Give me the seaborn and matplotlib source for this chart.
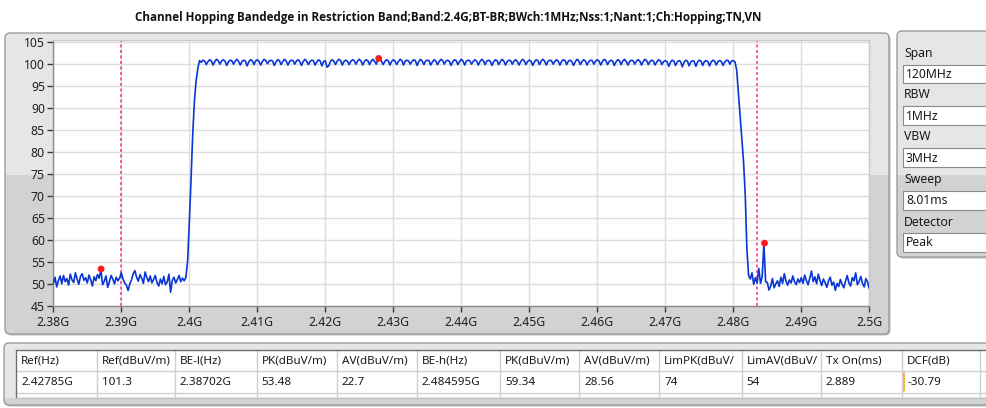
import numpy as np
import pandas as pd
import matplotlib
matplotlib.use("Agg")
import matplotlib.pyplot as plt
from matplotlib.patches import FancyBboxPatch, Rectangle
import seaborn as sns

# ---------------- data ----------------
TITLE = ("Channel Hopping Bandedge in Restriction Band;Band:2.4G;BT-BR;BWch:1MHz;"
         "Nss:1;Nant:1;Ch:Hopping;TN,VN")

sweep_start_mhz = 2380.0
sweep_step_mhz = 0.25
trace_dbuv = [
    50.2, 51.6, 49.4, 50.8, 51.9, 50.1, 52.0, 50.6, 51.3, 49.8, 52.3, 51.0, 50.4, 52.6, 51.2, 50.0, 51.8, 52.4, 50.9, 51.5,
    50.3, 52.1, 51.0, 49.6, 51.7, 50.8, 52.2, 51.4, 53.3, 49.9, 50.7, 51.9, 49.3, 50.6, 52.0, 51.2, 50.1, 51.6, 50.8, 51.4,
    52.6, 51.2, 50.3, 49.8, 48.6, 50.1, 51.0, 52.4, 53.1, 51.6, 50.7, 52.2, 51.4, 50.2, 52.8, 51.5, 50.6, 51.9, 50.3, 51.1,
    52.0, 50.4, 49.6, 51.2, 50.1, 51.8, 49.9, 50.5, 52.3, 48.2, 50.9, 51.6, 50.3, 51.1, 52.0, 50.6, 51.4, 50.8, 51.6, 55.2,
    64.0, 73.5, 84.0, 91.5, 96.2, 99.0, 100.8, 100.4, 100.9, 100.7, 99.9, 100.6, 101.0, 100.7, 99.8, 100.6, 101.1, 100.8, 100.0, 100.7,
    101.0, 100.7, 99.7, 100.5, 100.9, 100.8, 100.0, 100.7, 101.1, 100.6, 99.8, 100.6, 100.9, 100.7, 99.6, 100.5, 101.0, 100.8, 99.9, 100.7,
    101.0, 100.6, 99.8, 100.6, 101.1, 100.8, 100.1, 100.7, 100.9, 100.7, 99.7, 100.5, 101.0, 100.8, 99.9, 100.6, 101.1, 100.7, 99.8, 100.6,
    100.9, 100.8, 100.0, 100.7, 101.0, 100.6, 99.7, 100.6, 101.1, 100.7, 99.9, 100.6, 100.9, 100.8, 99.8, 100.5, 101.0, 100.7, 99.6, 100.6,
    100.8, 99.3, 99.6, 100.6, 101.0, 100.7, 99.9, 100.7, 101.1, 100.8, 99.8, 100.6, 100.9, 100.7, 99.9, 100.6, 101.0, 100.8, 100.0, 100.7,
    101.1, 100.7, 99.8, 100.6, 101.0, 100.8, 99.9, 100.7, 101.1, 100.6, 100.0, 101.2, 101.1, 100.7, 99.9, 100.6, 101.0, 100.8, 99.8, 100.6,
    101.0, 100.7, 99.9, 100.6, 101.1, 100.8, 99.8, 100.7, 100.9, 100.7, 100.0, 100.6, 101.0, 100.8, 99.7, 100.6, 101.1, 100.7, 99.9, 100.7,
    100.9, 100.8, 99.8, 100.5, 101.0, 100.7, 99.9, 100.6, 101.1, 100.8, 100.0, 100.7, 100.9, 100.6, 99.7, 100.6, 101.0, 100.8, 99.9, 100.6,
    101.1, 100.7, 99.8, 100.7, 100.9, 100.8, 100.0, 100.6, 101.0, 100.7, 99.8, 100.6, 101.1, 100.8, 99.9, 100.7, 100.9, 100.7, 99.7, 100.5,
    101.0, 100.8, 99.9, 100.6, 101.1, 100.7, 99.8, 100.6, 100.9, 100.8, 100.0, 100.7, 101.0, 100.6, 99.8, 100.6, 101.1, 100.8, 99.9, 100.6,
    100.9, 100.7, 99.7, 100.5, 101.0, 100.8, 99.9, 100.7, 101.1, 100.7, 99.8, 100.6, 100.9, 100.8, 100.0, 100.6, 101.0, 100.7, 99.8, 100.6,
    101.0, 100.8, 99.9, 100.7, 100.9, 100.6, 99.7, 100.5, 101.1, 100.8, 99.9, 100.6, 101.0, 100.7, 99.8, 100.6, 100.9, 100.8, 100.0, 100.7,
    101.0, 100.7, 99.8, 100.6, 101.1, 100.8, 99.9, 100.6, 100.9, 100.7, 99.7, 100.5, 101.0, 100.8, 99.9, 100.7, 101.1, 100.6, 99.8, 100.6,
    100.9, 100.8, 100.0, 100.7, 101.0, 100.7, 99.8, 100.6, 101.1, 100.8, 99.9, 100.6, 100.9, 100.7, 99.8, 100.5, 101.0, 100.8, 99.9, 100.6,
    100.8, 100.6, 99.5, 100.4, 100.9, 100.7, 99.7, 100.5, 100.8, 100.6, 99.4, 100.4, 100.9, 100.7, 99.6, 100.5, 100.8, 100.6, 99.5, 100.5,
    100.9, 100.7, 99.7, 100.6, 100.8, 100.6, 99.6, 100.5, 100.9, 100.7, 99.8, 100.6, 100.8, 100.6, 99.7, 100.5, 100.9, 100.8, 100.0, 100.7,
    100.8, 100.5, 98.6, 93.5, 88.5, 83.0, 78.0, 70.5, 58.0, 52.0, 51.2, 52.6, 50.0, 51.5, 50.3, 53.6, 50.2, 51.8, 59.2, 50.6,
    50.4, 48.7, 49.6, 51.3, 49.2, 50.1, 50.8, 49.5, 51.6, 50.2, 52.4, 50.7, 49.8, 51.0, 50.3, 51.9, 50.6, 49.9, 51.2, 50.4,
    51.5, 50.2, 52.1, 50.8, 49.9, 51.4, 53.0, 50.6, 51.7, 50.1, 52.3, 50.9, 49.7, 51.2, 50.4, 49.3, 50.8, 51.6, 49.8, 50.5,
    48.6, 50.2, 49.5, 51.1, 50.0, 49.2, 50.7, 52.0, 50.3, 49.6, 51.5, 50.8, 52.6, 49.9, 50.6, 51.8, 50.2, 49.4, 51.3, 50.5,
    49.0,
]

band_edge_lines_ghz = [2.39, 2.4835]
marker_freq_ghz = [2.38702, 2.42785, 2.484595]
marker_dbuv = [53.48, 101.3, 59.34]

x_ticks_ghz = [2.38, 2.39, 2.40, 2.41, 2.42, 2.43, 2.44, 2.45, 2.46, 2.47, 2.48, 2.49, 2.50]
x_tick_labels = ["2.38G", "2.39G", "2.4G", "2.41G", "2.42G", "2.43G", "2.44G",
                 "2.45G", "2.46G", "2.47G", "2.48G", "2.49G", "2.5G"]
y_ticks = [45, 50, 55, 60, 65, 70, 75, 80, 85, 90, 95, 100, 105]

setting_names = ["Span", "RBW", "VBW", "Sweep", "Detector"]
setting_values = ["120MHz", "1MHz", "3MHz", "8.01ms", "Peak"]

# header texts as they appear (the two limit headers are cut by their cells)
table_headers = ["Ref(Hz)", "Ref(dBuV/m)", "BE-l(Hz)", "PK(dBuV/m)", "AV(dBuV/m)", "BE-h(Hz)",
                 "PK(dBuV/m)", "AV(dBuV/m)", "LimPK(dBuV/", "LimAV(dBuV/", "Tx On(ms)", "DCF(dB)"]
table_values = ["2.42785G", "101.3", "2.38702G", "53.48", "22.7", "2.484595G",
                "59.34", "28.56", "74", "54", "2.889", "-30.79"]

# ---------------- styling ----------------
sns.set_theme(style="white")
plt.rcParams["font.family"] = ["Noto Sans", "DejaVu Sans"]

W, H = 987, 408
fig = plt.figure(figsize=(W / 100, H / 100), dpi=100)
fig.patch.set_facecolor("white")

# background "pixel" axes (y down)
bg = fig.add_axes([0, 0, 1, 1], zorder=-1)
bg.set_xlim(0, W)
bg.set_ylim(H, 0)
bg.set_axis_off()

PANEL_TOP = "#e6e6e6"
PANEL_BOT = "#d2d2d2"
PANEL_EDGE = "#9c9c9c"


def panel(x0, y0, x1, y1, split, r=5):
    sh = FancyBboxPatch((x0 + 1.5, y0 + 1.5), x1 - x0, y1 - y0,
                        boxstyle=f"round,pad=0,rounding_size={r}",
                        fc="#bdbdbd", ec="none", zorder=1)
    bg.add_patch(sh)
    base = FancyBboxPatch((x0, y0), x1 - x0, y1 - y0,
                          boxstyle=f"round,pad=0,rounding_size={r}",
                          fc=PANEL_BOT, ec="none", zorder=2)
    bg.add_patch(base)
    up = Rectangle((x0, y0), x1 - x0, split - y0, fc=PANEL_TOP, ec="none", zorder=3)
    bg.add_patch(up)
    up.set_clip_path(base)
    bd = FancyBboxPatch((x0, y0), x1 - x0, y1 - y0,
                        boxstyle=f"round,pad=0,rounding_size={r}",
                        fc="none", ec=PANEL_EDGE, lw=1.0, zorder=4)
    bg.add_patch(bd)


# graph panel, settings panel, table panel
panel(5, 33, 889, 334, 175)
panel(897, 31, 1000, 257, 175)
panel(4, 343, 1000, 405, 398)

# title
bg.text(448, 17, TITLE, ha="center", va="center", fontsize=8.4,
        fontweight="bold", family=["Open Sans", "DejaVu Sans"], color="#111111", zorder=10)

# settings panel content
label_y = [53, 95, 137, 180, 222]
box_y = [(65, 83), (106, 125), (148, 167), (191, 210), (233, 252)]
for name, val, ly, (b0, b1) in zip(setting_names, setting_values, label_y, box_y):
    bg.text(904, ly, name, ha="left", va="center", fontsize=8.8, color="#1a1a1a", zorder=10)
    bg.add_patch(Rectangle((903, b0), 100, b1 - b0, fc="white", ec="#8a8a8a", lw=0.8, zorder=8))
    bg.text(906, (b0 + b1) / 2 + 0.5, val, ha="left", va="center", fontsize=8.8,
            color="#1a1a1a", zorder=10)

# table
col_edges = [16, 96.7, 175, 256.7, 336.7, 416.7, 500, 579.3, 659.3, 741.7, 821, 902.3, 980, 1000]
t_top, t_mid, t_bot, t_end = 350, 371, 393, 397
bg.add_patch(Rectangle((16, t_top), 1000 - 16, t_end - t_top, fc="white", ec="none", zorder=6))
bg.plot([16, 1000], [t_top, t_top], color="#6e6e6e", lw=1.0, zorder=9)
bg.plot([16, 16], [t_top, t_end], color="#6e6e6e", lw=1.0, zorder=9)
for yy in (t_mid, t_bot):
    bg.plot([16, 1000], [yy, yy], color="#d0d0d0", lw=1.0, zorder=7)
bg.plot([16, 1000], [t_end + 0.5, t_end + 0.5], color="#c4c4c4", lw=1.0, zorder=7)
for xe in col_edges[1:-1]:
    bg.plot([xe, xe], [t_top, t_end], color="#d0d0d0", lw=1.0, zorder=7)
for i, (hd, vl) in enumerate(zip(table_headers, table_values)):
    x0 = col_edges[i]
    bg.text(x0 + 5, (t_top + t_mid) / 2 + 0.5, hd, ha="left", va="center", fontsize=8.4,
            color="#1a1a1a", zorder=10)
    bg.text(x0 + 5, (t_mid + t_bot) / 2 + 0.5, vl, ha="left", va="center", fontsize=8.4,
            color="#1a1a1a", zorder=10)
# text cursor in DCF cell
bg.plot([903.5, 903.5], [373, 391], color="#f0b020", lw=1.2, zorder=11)

# ---------------- main graph ----------------
ax_l, ax_r, ax_t, ax_b = 53.3, 869.3, 39.5, 306.3
ax = fig.add_axes([ax_l / W, 1 - ax_b / H, (ax_r - ax_l) / W, (ax_b - ax_t) / H], zorder=2)
ax.set_facecolor("white")

freq_ghz = (sweep_start_mhz + sweep_step_mhz * np.arange(len(trace_dbuv))) / 1000.0
df = pd.DataFrame({"freq_ghz": freq_ghz, "level": trace_dbuv})

for f in band_edge_lines_ghz:
    ax.axvline(f, color="#f2388f", lw=1.1, ls=(0, (2.0, 1.6)), zorder=2)

sns.lineplot(data=df, x="freq_ghz", y="level", ax=ax, color="#0a36d4", lw=1.2,
             estimator=None, sort=False, zorder=3)
sns.scatterplot(x=marker_freq_ghz, y=marker_dbuv, ax=ax, color="#ff1a1a", s=24,
                edgecolor="none", zorder=5)

ax.set_xlim(2.38, 2.50)
ax.set_ylim(45, 105.6)
ax.set_xticks(x_ticks_ghz)
ax.set_xticklabels(x_tick_labels)
ax.set_yticks(y_ticks)
ax.set_xlabel("")
ax.set_ylabel("")
ax.grid(True, color="#dddddd", lw=1.0, zorder=0)
ax.set_axisbelow(True)
ax.tick_params(axis="both", which="both", direction="out", length=4, width=1.0,
               color="#3a3a3a", labelsize=8.8, labelcolor="#202020",
               bottom=True, left=True, top=False, right=False)
ax.tick_params(axis="y", pad=2)
ax.tick_params(axis="x", pad=3)
for side in ("left", "bottom"):
    ax.spines[side].set_color("#8a8a8a")
    ax.spines[side].set_linewidth(1.0)
for side in ("top", "right"):
    ax.spines[side].set_color("#c8c8c8")
    ax.spines[side].set_linewidth(1.0)

fig.savefig("out.png", dpi=100, facecolor="white")
